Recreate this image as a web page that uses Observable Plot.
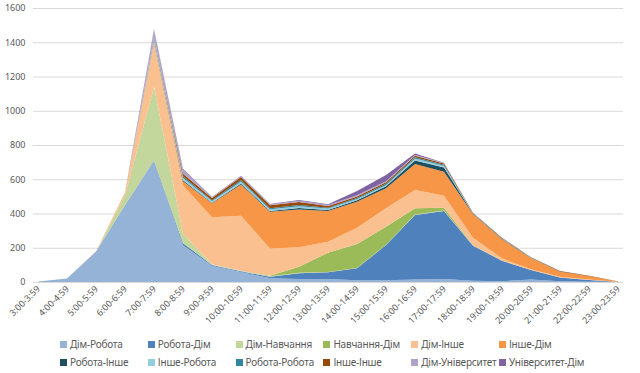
<!DOCTYPE html>
<html><head><meta charset="utf-8">
<script src="https://cdn.jsdelivr.net/npm/d3@7"></script>
<script src="https://cdn.jsdelivr.net/npm/@observablehq/plot@0.6"></script>
<style>
html,body{margin:0;padding:0;background:#fff;}
body{position:relative;width:640px;height:373px;overflow:hidden;font-family:"Noto Sans",sans-serif;}
#legend{position:absolute;left:60px;top:337px;display:grid;grid-template-columns:repeat(6,87.8px);row-gap:4px;font-size:10px;letter-spacing:-0.2px;color:#595959;}
#legend .it{display:flex;align-items:center;white-space:nowrap;height:14px;}
#legend .sw{width:7px;height:7px;margin-right:3px;flex:none;}
</style></head><body><div id="chart"></div><div id="legend"></div>
<script>
const hours = ["3:00-3:59","4:00-4:59","5:00-5:59","6:00-6:59","7:00-7:59","8:00-8:59","9:00-9:59","10:00-10:59","11:00-11:59","12:00-12:59","13:00-13:59","14:00-14:59","15:00-15:59","16:00-16:59","17:00-17:59","18:00-18:59","19:00-19:59","20:00-20:59","21:00-21:59","22:00-22:59","23:00-23:59"];
const seriesNames = ["Дім-Робота","Робота-Дім","Дім-Навчання","Навчання-Дім","Дім-Інше","Інше-Дім","Робота-Інше","Інше-Робота","Робота-Робота","Інше-Інше","Дім-Університет","Університет-Дім"];
const seriesColors = ["#95B3D7","#4F81BD","#C3D69B","#9BBB59","#FAC090","#F79646","#1F4E5F","#93CDDD","#31859C","#984807","#B3A2C7","#8064A2"];
const yTicks = [0,200,400,600,800,1000,1200,1400,1600];

const dimRobota      = [3,20,178,450,705,215,95,58,22,17,17,10,10,14,17,8,5,15,5,2,1];
const robotaDim      = [0,0,0,0,5,12,5,5,8,34,40,70,206,377,398,204,119,55,22,10,1];
const dimNavchannia  = [0,0,0,55,430,55,3,2,3,3,2,2,2,3,3,1,0,0,0,0,0];
const navchanniaDim  = [0,0,0,0,0,0,0,0,3,35,112,140,105,36,16,2,0,0,0,0,0];
const dimInshe       = [0,0,2,19,250,282,275,322,160,114,64,95,107,107,70,44,14,4,3,2,0];
const insheDim       = [0,0,0,0,10,25,82,183,214,221,180,152,117,152,140,136,111,64,30,20,2];
const robotaInshe    = [0,0,0,0,3,5,3,5,5,8,6,8,12,20,25,4,3,2,1,0,0];
const insheRobota    = [0,0,0,0,15,15,10,12,10,10,8,8,8,12,10,2,2,1,1,0,0];
const robotaRobota   = [0,0,0,0,5,8,5,8,6,7,5,5,6,8,5,1,1,1,0,0,0];
const insheInshe     = [0,0,0,0,5,15,12,18,17,18,10,10,10,8,8,2,3,2,2,2,0];
const dimUniversytet = [0,0,0,0,45,25,4,5,5,7,5,6,5,4,3,1,1,0,0,0,0];
const universytetDim = [0,0,0,0,5,5,2,3,3,5,5,25,37,10,2,0,0,0,0,0,0];

const seriesValues = [dimRobota,robotaDim,dimNavchannia,navchanniaDim,dimInshe,insheDim,robotaInshe,insheRobota,robotaRobota,insheInshe,dimUniversytet,universytetDim];

const rows = [];
seriesNames.forEach((s,i)=>hours.forEach((h,j)=>rows.push({series:s,hour:h,value:seriesValues[i][j]})));

const chart = Plot.plot({
  width:640, height:336,
  marginTop:8, marginBottom:54, marginLeft:33, marginRight:17,
  style:{fontFamily:"Noto Sans, sans-serif", fontSize:"9px", color:"#595959", background:"#fff"},
  x:{type:"point", domain:hours, padding:0, label:null},
  y:{domain:[0,1600], label:null},
  color:{domain:seriesNames, range:seriesColors},
  marks:[
    Plot.gridY(yTicks,{stroke:"#d9d9d9", strokeOpacity:1, strokeWidth:1}),
    Plot.areaY(rows,{x:"hour", y:"value", z:"series", fill:"series", fillOpacity:1}),
    Plot.axisY(yTicks,{tickSize:0, tickPadding:8, tickFormat:d=>String(d), label:null, fill:"#595959"}),
    Plot.axisX({tickSize:0, tickRotate:-45, tickPadding:5, label:null, fill:"#595959"})
  ]
});
document.getElementById("chart").append(chart);

const legend = document.getElementById("legend");
seriesNames.forEach((name,i)=>{
  const it=document.createElement("div"); it.className="it";
  const sw=document.createElement("span"); sw.className="sw"; sw.style.background=seriesColors[i];
  const tx=document.createElement("span"); tx.textContent=name;
  it.append(sw,tx); legend.append(it);
});
</script>
</body></html>
